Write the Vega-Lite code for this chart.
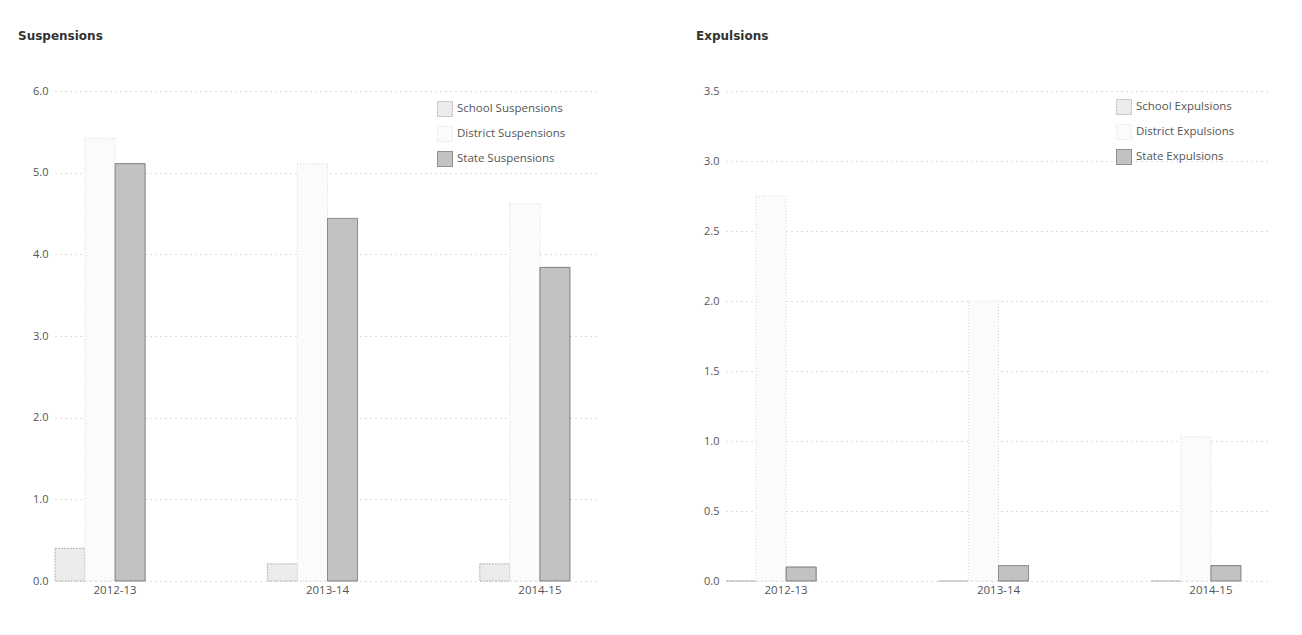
{
  "$schema": "https://vega.github.io/schema/vega-lite/v6.json",
  "background": "white",
  "padding": {"left": 18, "top": 30, "right": 5, "bottom": 5},
  "spacing": 96,
  "config": {
    "font": "Open Sans",
    "view": {"stroke": null},
    "axis": {
      "labelFont": "Open Sans",
      "labelFontSize": 11,
      "labelColor": "#555555",
      "domain": false,
      "ticks": false,
      "title": null
    },
    "axisY": {
      "grid": true,
      "gridColor": "#bcbcbc",
      "gridDash": [1, 4],
      "gridWidth": 1,
      "labelPadding": 7,
      "zindex": 1
    },
    "axisX": {"grid": false, "labelAngle": 0, "labelPadding": 3, "labelFontSize": 11.5},
    "legend": {
      "title": null,
      "orient": "none",
      "symbolType": "square",
      "symbolSize": 225,
      "symbolStrokeWidth": 1,
      "labelFont": "Open Sans",
      "labelFontSize": 11.5,
      "labelColor": "#555555",
      "rowPadding": 5,
      "labelOffset": 4,
      "padding": 0
    },
    "title": {
      "anchor": "start",
      "frame": "group",
      "font": "DejaVu Sans",
      "fontSize": 12,
      "fontWeight": "bold",
      "color": "#333333",
      "offset": 42
    }
  },
  "datasets": {
    "susp": [
      {"year": "2012-13", "series": "School Suspensions", "value": 0.40},
      {"year": "2012-13", "series": "District Suspensions", "value": 5.42},
      {"year": "2012-13", "series": "State Suspensions", "value": 5.11},
      {"year": "2013-14", "series": "School Suspensions", "value": 0.21},
      {"year": "2013-14", "series": "District Suspensions", "value": 5.11},
      {"year": "2013-14", "series": "State Suspensions", "value": 4.44},
      {"year": "2014-15", "series": "School Suspensions", "value": 0.21},
      {"year": "2014-15", "series": "District Suspensions", "value": 4.62},
      {"year": "2014-15", "series": "State Suspensions", "value": 3.84}
    ],
    "exp": [
      {"year": "2012-13", "series": "School Expulsions", "value": 0.0},
      {"year": "2012-13", "series": "District Expulsions", "value": 2.75},
      {"year": "2012-13", "series": "State Expulsions", "value": 0.10},
      {"year": "2013-14", "series": "School Expulsions", "value": 0.0},
      {"year": "2013-14", "series": "District Expulsions", "value": 2.0},
      {"year": "2013-14", "series": "State Expulsions", "value": 0.11},
      {"year": "2014-15", "series": "School Expulsions", "value": 0.0},
      {"year": "2014-15", "series": "District Expulsions", "value": 1.03},
      {"year": "2014-15", "series": "State Expulsions", "value": 0.11}
    ]
  },
  "hconcat": [
    {
      "title": {"text": "Suspensions", "dx": -37},
      "width": 545,
      "height": 490,
      "data": {"name": "susp"},
      "mark": {"type": "bar", "strokeWidth": 1},
      "encoding": {
        "x": {"field": "year", "type": "nominal", "scale": {"paddingInner": 0.434, "paddingOuter": 0}},
        "xOffset": {"field": "series", "type": "nominal", "scale": {"domain": ["School Suspensions", "District Suspensions", "State Suspensions", "gap"]}},
        "y": {"field": "value", "type": "quantitative", "scale": {"domain": [0, 6]}, "axis": {"values": [0, 1, 2, 3, 4, 5, 6], "format": ".1f"}},
        "fill": {"field": "series", "type": "nominal",
          "scale": {"domain": ["School Suspensions", "District Suspensions", "State Suspensions"], "range": ["#ececec", "#fbfbfb", "#c2c2c2"]},
          "legend": {"legendX": 382, "legendY": 10}},
        "stroke": {"field": "series", "type": "nominal",
          "scale": {"domain": ["School Suspensions", "District Suspensions", "State Suspensions"], "range": ["#b4b4b4", "#d6d6d6", "#747474"]},
          "legend": {"legendX": 382, "legendY": 10}},
        "strokeDash": {"field": "series", "type": "nominal",
          "scale": {"domain": ["School Suspensions", "District Suspensions", "State Suspensions"], "range": [[2, 1], [1, 2], [1, 0]]},
          "legend": {"legendX": 382, "legendY": 10}}
      }
    },
    {
      "title": {"text": "Expulsions", "dx": -30},
      "width": 545,
      "height": 490,
      "data": {"name": "exp"},
      "mark": {"type": "bar", "strokeWidth": 1},
      "encoding": {
        "x": {"field": "year", "type": "nominal", "scale": {"paddingInner": 0.434, "paddingOuter": 0}},
        "xOffset": {"field": "series", "type": "nominal", "scale": {"domain": ["School Expulsions", "District Expulsions", "State Expulsions", "gap"]}},
        "y": {"field": "value", "type": "quantitative", "scale": {"domain": [0, 3.5]}, "axis": {"values": [0, 0.5, 1, 1.5, 2, 2.5, 3, 3.5], "format": ".1f"}},
        "fill": {"field": "series", "type": "nominal",
          "scale": {"domain": ["School Expulsions", "District Expulsions", "State Expulsions"], "range": ["#ececec", "#fbfbfb", "#c2c2c2"]},
          "legend": {"legendX": 390, "legendY": 8}},
        "stroke": {"field": "series", "type": "nominal",
          "scale": {"domain": ["School Expulsions", "District Expulsions", "State Expulsions"], "range": ["#b4b4b4", "#d6d6d6", "#747474"]},
          "legend": {"legendX": 390, "legendY": 8}},
        "strokeDash": {"field": "series", "type": "nominal",
          "scale": {"domain": ["School Expulsions", "District Expulsions", "State Expulsions"], "range": [[2, 1], [1, 2], [1, 0]]},
          "legend": {"legendX": 390, "legendY": 8}}
      }
    }
  ],
  "resolve": {"scale": {"fill": "independent", "stroke": "independent", "strokeDash": "independent", "x": "independent", "y": "independent", "xOffset": "independent"}, "legend": {"fill": "independent", "stroke": "independent", "strokeDash": "independent"}}
}
